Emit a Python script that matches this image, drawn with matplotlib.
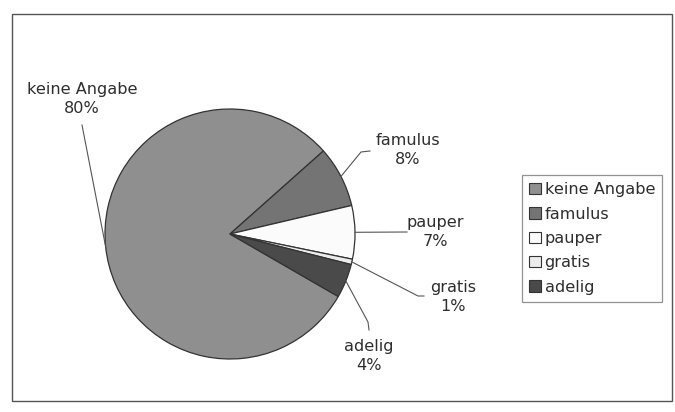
import matplotlib
matplotlib.use("Agg")
import matplotlib.pyplot as plt
from matplotlib.patches import Patch, Rectangle
import numpy as np

categories = ["keine Angabe", "famulus", "pauper", "gratis", "adelig"]
shares = [80.1, 7.9, 6.9, 0.7, 4.4]
colors = ["#8f8f8f", "#747474", "#fbfbfb", "#ececec", "#4a4a4a"]

W, H = 675, 412
fig = plt.figure(figsize=(W / 100, H / 100), dpi=100)
ax = fig.add_axes([0, 0, 1, 1])

def py(y):
    return H - y

center = (230, py(234))
radius = 125
wedges, _ = ax.pie(shares, colors=colors, startangle=-30, counterclock=False,
                   center=center, radius=radius,
                   wedgeprops=dict(edgecolor="#333333", linewidth=0.9))
ax.set_xlim(0, W)
ax.set_ylim(0, H)
ax.set_aspect("equal")
ax.set_axis_off()

# outer frame
ax.add_patch(Rectangle((12, py(401)), 660, 387, fill=False, edgecolor="#555555", linewidth=1.0))

# label layout: text centre and leader path (after the wedge edge point)
label_pos = [(82, 99), (408, 150), (435, 232), (453, 297), (369, 356)]
leader_pts = [
    [(82, 125)],
    [(361, 152), (370, 151)],
    [(407, 232)],
    [(418, 296), (424, 296)],
    [(368, 322), (369, 330)],
]
txtc = "#2e2e2e"
for w, name, s, (lx, ly), pts in zip(wedges, categories, shares, label_pos, leader_pts):
    mid = np.deg2rad((w.theta1 + w.theta2) / 2)
    ex = center[0] + radius * np.cos(mid)
    ey = center[1] + radius * np.sin(mid)
    xs = [ex] + [p[0] for p in pts]
    ys = [ey] + [py(p[1]) for p in pts]
    ax.plot(xs, ys, color="#555555", linewidth=0.8)
    ax.text(lx, py(ly), f"{name}\n{s:.0f}%", ha="center", va="center",
            fontsize=11.6, color=txtc, linespacing=1.4, family="DejaVu Sans")

handles = [Patch(facecolor=c, edgecolor="#333333", linewidth=0.8) for c in colors]
leg = fig.legend(handles, categories, loc="upper left",
                 bbox_to_anchor=(522 / W, 1 - 175 / H), frameon=True, fancybox=False,
                 edgecolor="#777777", fontsize=11.6, handlelength=0.7, handleheight=0.7,
                 handletextpad=0.25, labelspacing=0.58, borderpad=0.45, borderaxespad=0)
for t in leg.get_texts():
    t.set_color(txtc)
leg.get_frame().set_linewidth(0.9)

fig.savefig("out.png", dpi=100, facecolor="white")
